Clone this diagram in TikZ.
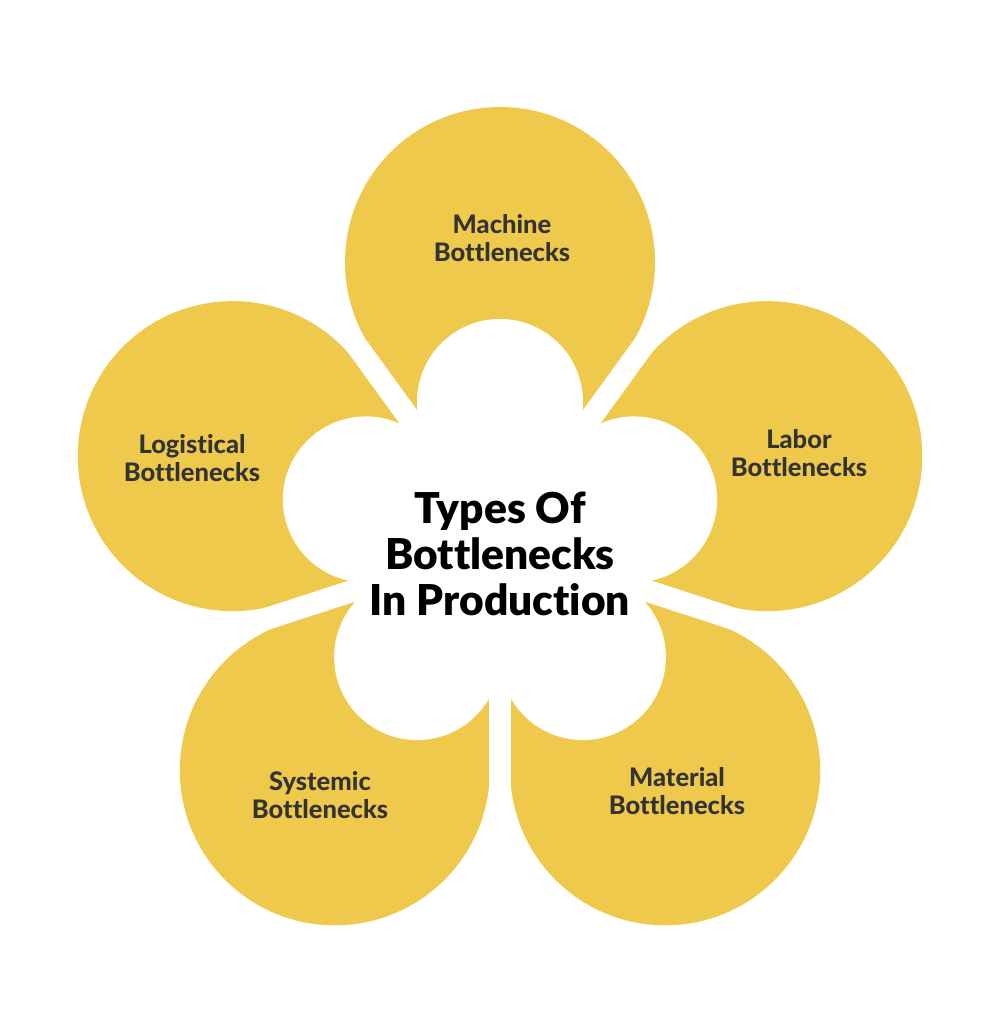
\documentclass[tikz,border=0pt]{standalone}
\usepackage{fontspec}
\setmainfont{Lato}[RawFeature={-liga}]
\newfontfamily\petalfont{Lato Heavy}[RawFeature={-liga}]
\newfontfamily\titlefont{Lato Black}[RawFeature={-liga}]
\usetikzlibrary{calc}
\definecolor{petal}{HTML}{EFC94C}
\definecolor{ptext}{HTML}{333333}
\begin{document}
\begin{tikzpicture}[x=1pt,y=1pt,
  petalfill/.style={fill=petal,draw=none},
  gapline/.style={draw=white,line width=22pt},
  lobe/.style={fill=white,draw=none},
  plabel/.style={align=center,text=ptext,font=\fontsize{25.5}{28}\selectfont\petalfont},
  title/.style={align=center,text=black,font=\fontsize{42.5}{46}\selectfont\titlefont}]
\useasboundingbox (0,0) rectangle (1000,1024);
\fill[white] (0,0) rectangle (1000,1024);
\coordinate (C) at (500,481);
% petals
\foreach \a/\n in {90/p1,18/p2,-54/p3,-126/p4,162/p5}{
  \coordinate (\n) at ($(C)+(\a:281)$);
  \fill[petalfill] (\n) circle[radius=155];
  \fill[petalfill] (C) -- ($(C)+(\a+33.48:234.4)$) -- ($(C)+(\a-33.48:234.4)$) -- cycle;
}
% gaps
\foreach \g in {54,-18,-90,-162,126}{
  \draw[gapline] (C) -- ($(C)+(\g:460)$);
}
% white flower
\fill[lobe] (C) circle[radius=114];
\foreach \a in {90,18,-54,-126,162}{
  \fill[lobe] ($(C)+(\a:141)$) circle[radius=83];
}
% labels
\node[plabel] (machine) at (502,786) {Machine\\Bottlenecks};
\node[plabel] (labor) at (799,571) {Labor\\Bottlenecks};
\node[plabel] (logistical) at (192,566) {Logistical\\Bottlenecks};
\node[plabel] (systemic) at (320,229) {Systemic\\Bottlenecks};
\node[plabel] (material) at (677,233) {Material\\Bottlenecks};
\node[title] (center) at (500,470) {Types Of\\Bottlenecks\\In Production};
\end{tikzpicture}
\end{document}
